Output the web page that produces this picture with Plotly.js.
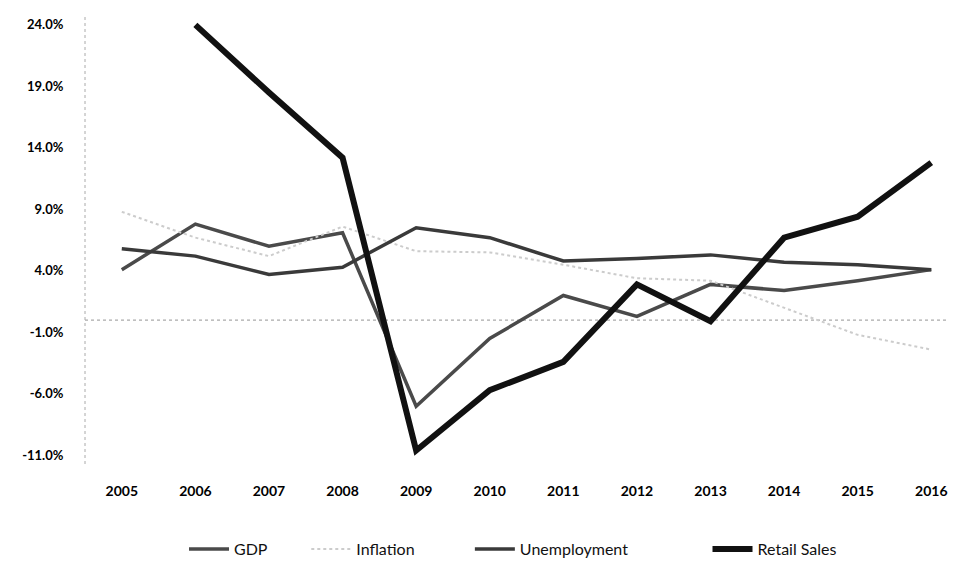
<!DOCTYPE html>
<html>
<head>
<meta charset="utf-8">
<script src="https://cdn.plot.ly/plotly-3.0.1.min.js"></script>
<style>
  html, body { margin: 0; padding: 0; background: #fff; }
  #chart { width: 953px; height: 572px; }
</style>
</head>
<body>
<div id="chart"></div>
<script>
// ---- data ----
const years = [2005, 2006, 2007, 2008, 2009, 2010, 2011, 2012, 2013, 2014, 2015, 2016];
const gdp          = [4.1, 7.8, 6.0, 7.1, -7.0, -1.5, 2.0, 0.3, 2.9, 2.4, 3.2, 4.1];
const inflation    = [8.8, 6.7, 5.2, 7.6, 5.6, 5.5, 4.5, 3.4, 3.2, 1.0, -1.2, -2.4];
const unemployment = [5.8, 5.2, 3.7, 4.3, 7.5, 6.7, 4.8, 5.0, 5.3, 4.7, 4.5, 4.1];
const retailSales  = [null, 24.0, 18.5, 13.2, -10.6, -5.7, -3.4, 2.9, -0.1, 6.7, 8.4, 12.8];

const yTickVals = [24, 19, 14, 9, 4, -1, -6, -11];
const yTickText = ['24.0%', '19.0%', '14.0%', '9.0%', '4.0%', '-1.0%', '-6.0%', '-11.0%'];
const xTickText = years.map(String);

const traces = [
  { name: 'GDP', x: years, y: gdp, type: 'scatter', mode: 'lines', legend: 'legend',
    line: { color: '#4a4a4a', width: 3.5 } },
  { name: 'Inflation', x: years, y: inflation, type: 'scatter', mode: 'lines', legend: 'legend2',
    line: { color: '#cccccc', width: 2, dash: 'dot' } },
  { name: 'Unemployment', x: years, y: unemployment, type: 'scatter', mode: 'lines', legend: 'legend3',
    line: { color: '#3a3a3a', width: 3.5 } },
  { name: 'Retail Sales', x: years, y: retailSales, type: 'scatter', mode: 'lines', legend: 'legend4',
    connectgaps: false,
    line: { color: '#111111', width: 6 } }
];

const legFont = { size: 16, family: 'Lato, sans-serif', color: '#111' };
function leg(xPaper) {
  return { orientation: 'h', x: xPaper, xanchor: 'left', y: -0.187, yanchor: 'middle',
           font: legFont, itemwidth: 40, bgcolor: 'rgba(0,0,0,0)' };
}

const layout = {
  width: 953, height: 572,
  paper_bgcolor: '#ffffff', plot_bgcolor: '#ffffff',
  margin: { l: 85, r: 7, t: 15, b: 107 },
  font: { family: 'Lato, "Open Sans", sans-serif', color: '#000' },
  showlegend: true,
  legend: leg(0.115),
  legend2: leg(0.257),
  legend3: leg(0.447),
  legend4: leg(0.723),
  xaxis: {
    type: 'linear', range: [2004.5, 2016.2],
    tickmode: 'array', tickvals: years, ticktext: xTickText,
    showgrid: false, zeroline: false, showline: false,
    ticks: 'outside', ticklen: 14, tickcolor: 'rgba(0,0,0,0)',
    tickfont: { size: 14, family: 'Lato, sans-serif', weight: 'bold', color: '#000' }
  },
  yaxis: {
    range: [-11.7, 24.8],
    tickmode: 'array', tickvals: yTickVals, ticktext: yTickText,
    showgrid: false, zeroline: false, showline: false,
    ticks: 'outside', ticklen: 18, tickcolor: 'rgba(0,0,0,0)',
    tickfont: { size: 13, family: 'Lato, sans-serif', weight: 'bold', color: '#000' }
  },
  shapes: [
    { type: 'line', xref: 'paper', yref: 'paper', x0: 0, x1: 0, y0: 0, y1: 1,
      line: { color: '#aaaaaa', width: 1, dash: 'dot' }, layer: 'below' },
    { type: 'line', xref: 'paper', yref: 'y', x0: 0, x1: 1, y0: 0, y1: 0,
      line: { color: '#aaaaaa', width: 1.2, dash: 'dot' }, layer: 'below' }
  ]
};

Plotly.newPlot('chart', traces, layout, { displayModeBar: false, staticPlot: true });
</script>
</body>
</html>
